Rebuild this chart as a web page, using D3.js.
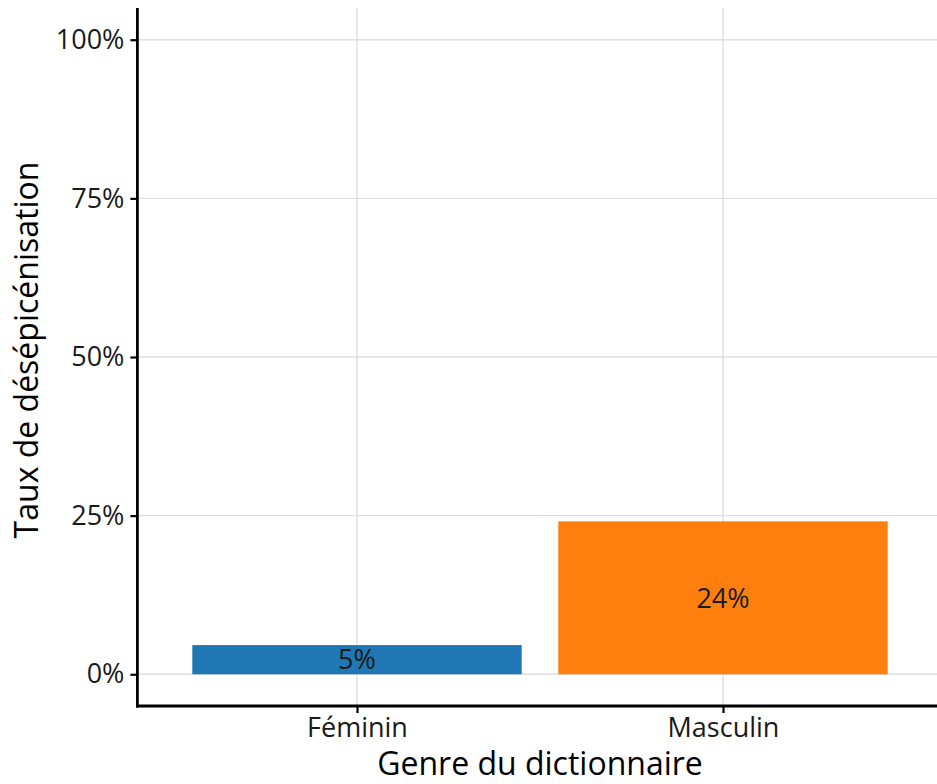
<!DOCTYPE html>
<html>
<head>
<meta charset="utf-8">
<script src="https://cdn.jsdelivr.net/npm/d3@7"></script>
<style>
  body { margin: 0; background: #fff; }
  text { font-family: "Open Sans", sans-serif; }
</style>
</head>
<body>
<div id="chart"></div>
<script>
// data
var categories = ['Féminin', 'Masculin'];
var rates = [0.046, 0.241];
var barColors = ['#1f77b4', '#ff7f0e'];
var yTicks = [0, 0.25, 0.5, 0.75, 1];

var width = 937;
var height = 784;
var left = 137.4, right = 942.6;   // panel runs past the window edge
var top_y = 8, bottom_y = 706;

var svg = d3.select('#chart').append('svg')
            .attr('width', width)
            .attr('height', height);

var x = d3.scalePoint()
          .domain(categories)
          .range([left, right])
          .padding(0.6);
var barWidth = x.step() * 0.9;

var y = d3.scaleLinear()
          .domain([-0.05, 1.05])
          .range([bottom_y, top_y]);

// grid
svg.selectAll('line.hgrid')
   .data(yTicks)
   .enter()
   .append('line')
   .attr('x1', left).attr('x2', width)
   .attr('y1', function(d){return y(d);})
   .attr('y2', function(d){return y(d);})
   .attr('stroke', '#dedede')
   .attr('stroke-width', 1.4);

svg.selectAll('line.vgrid')
   .data(categories)
   .enter()
   .append('line')
   .attr('x1', function(d){return x(d);})
   .attr('x2', function(d){return x(d);})
   .attr('y1', top_y).attr('y2', bottom_y)
   .attr('stroke', '#dedede')
   .attr('stroke-width', 1.4);

// bars
svg.selectAll('rect.bars')
   .data(rates)
   .enter()
   .append('rect')
   .attr('x', function(d, i){return x(categories[i]) - barWidth / 2;})
   .attr('width', barWidth)
   .attr('y', function(d){return y(d);})
   .attr('height', function(d){return y(0) - y(d);})
   .attr('fill', function(d, i){return barColors[i];});

svg.selectAll('text.values')
   .data(rates)
   .enter()
   .append('text')
   .text(function(d){return Math.round(d * 100) + '%';})
   .attr('x', function(d, i){return x(categories[i]);})
   .attr('y', function(d){return y(d / 2);})
   .attr('dy', '0.36em')
   .attr('text-anchor', 'middle')
   .attr('font-size', 27)
   .attr('fill', '#1a1a1a');

// axes
var yAxis = svg.append('g')
               .attr('transform', 'translate(' + left + ',0)')
               .call(d3.axisLeft(y).tickValues(yTicks).tickFormat(d3.format('.0%')).tickSize(7).tickPadding(6));

var xAxis = svg.append('g')
               .attr('transform', 'translate(0,' + bottom_y + ')')
               .call(d3.axisBottom(x).tickSize(7).tickPadding(5));

[yAxis, xAxis].forEach(function(g){
    g.select('.domain').attr('stroke', '#000').attr('stroke-width', 2.8);
    g.selectAll('.tick line').attr('stroke', '#000').attr('stroke-width', 2.2);
    g.selectAll('.tick text').attr('font-size', 27).attr('fill', '#1a1a1a')
     .attr('font-family', '"Open Sans", sans-serif');
});
xAxis.select('.domain').attr('d', 'M' + (left - 1.4) + ',0H' + width);
yAxis.select('.domain').attr('d', 'M0,' + top_y + 'V' + (bottom_y + 1.4));

// titles
svg.append('text')
   .text('Genre du dictionnaire')
   .attr('x', (left + right) / 2)
   .attr('y', 775)
   .attr('text-anchor', 'middle')
   .attr('font-size', 32)
   .attr('fill', '#000');

svg.append('text')
   .text('Taux de désépicénisation')
   .attr('transform', 'translate(38,350) rotate(-90)')
   .attr('text-anchor', 'middle')
   .attr('font-size', 32)
   .attr('fill', '#000');
</script>
</body>
</html>
